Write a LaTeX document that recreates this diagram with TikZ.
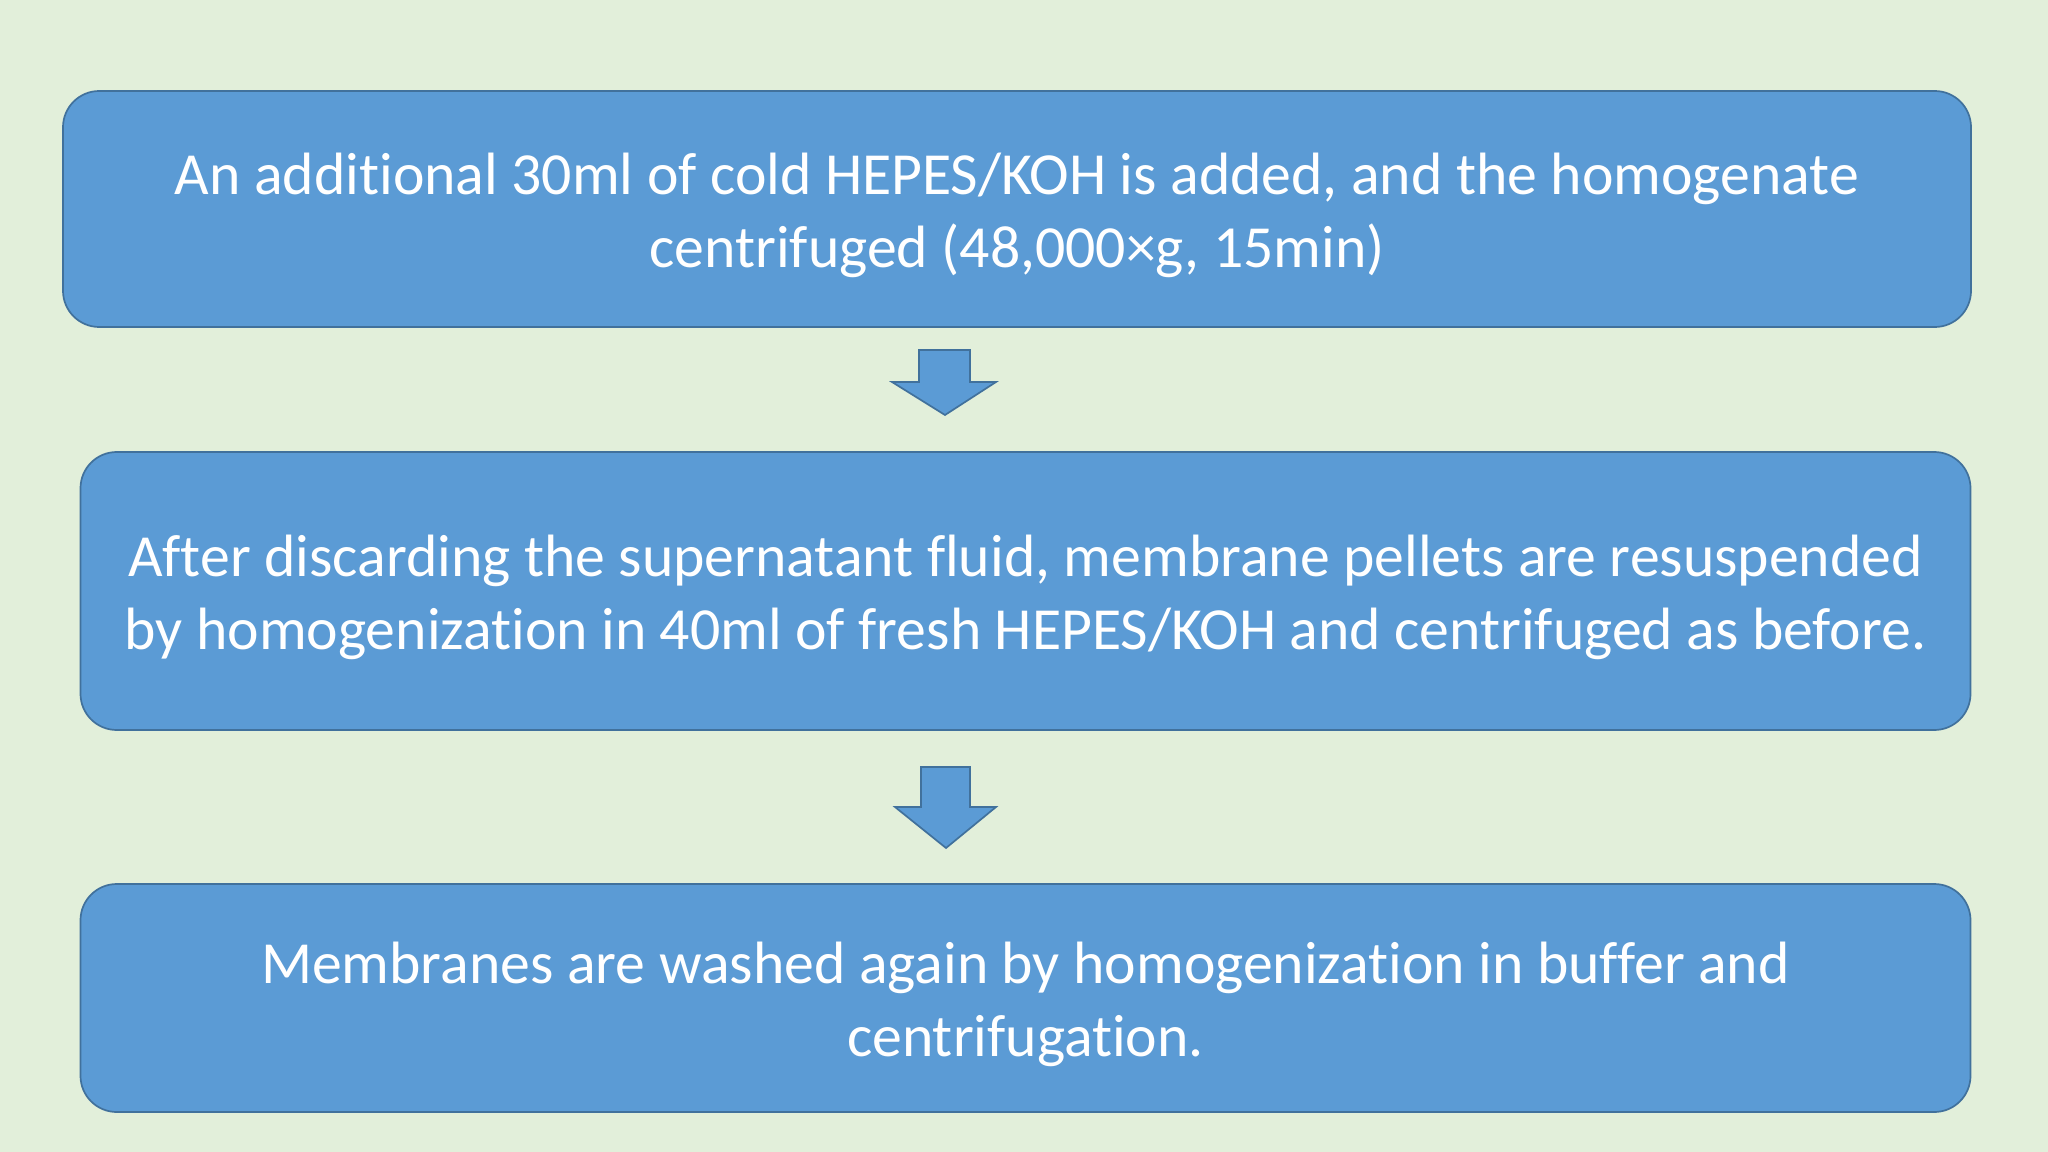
\documentclass[tikz,border=0pt]{standalone}
\usepackage{fontspec}
\setmainfont[Ligatures=NoCommon]{Carlito}
\definecolor{bgc}{HTML}{E2EFDA}
\definecolor{boxfill}{HTML}{5B9BD5}
\definecolor{boxline}{HTML}{41719C}
\begin{document}
\begin{tikzpicture}[x=0.46875pt,y=-0.46875pt,
  stepbox/.style={draw=boxline,line width=0.8pt,fill=boxfill,rounded corners=17pt,inner sep=0pt},
  steptext/.style={text=white,align=center,inner sep=0pt,font=\fontsize{28}{34}\selectfont},
  blockarrow/.style={draw=boxline,line width=0.8pt,fill=boxfill,line join=miter}]
\fill[bgc] (0,0) rectangle (2048,1152);
\useasboundingbox (0,0) rectangle (2048,1152);
\node[stepbox,minimum width=1908*0.46875pt,minimum height=236*0.46875pt] (b1) at (1017,209) {};
\node[steptext] (t1) at ([yshift=-3pt]b1.center)
  {An additional 30ml of cold HEPES/KOH is added, and the homogenate\\centrifuged (48,000\texttimes g, 15min)};
\node[stepbox,minimum width=1890*0.46875pt,minimum height=278*0.46875pt] (b2) at (1025.5,591) {};
\node[steptext] (t2) at ([yshift=-3pt]b2.center)
  {After discarding the supernatant fluid, membrane pellets are resuspended\\by homogenization in 40ml of fresh HEPES/KOH and centrifuged as before.};
\node[stepbox,minimum width=1890*0.46875pt,minimum height=228*0.46875pt] (b3) at (1025.5,998) {};
\node[steptext] (t3) at ([yshift=-3pt]b3.center)
  {Membranes are washed again by homogenization in buffer and\\centrifugation.};
\draw[blockarrow] (919,350) -- (970,350) -- (970,382) -- (996,382) -- (945,415) -- (892,382) -- (919,382) -- cycle;
\draw[blockarrow] (921,767) -- (970,767) -- (970,807) -- (996,807) -- (946,848) -- (895,807) -- (921,807) -- cycle;
\end{tikzpicture}
\end{document}
